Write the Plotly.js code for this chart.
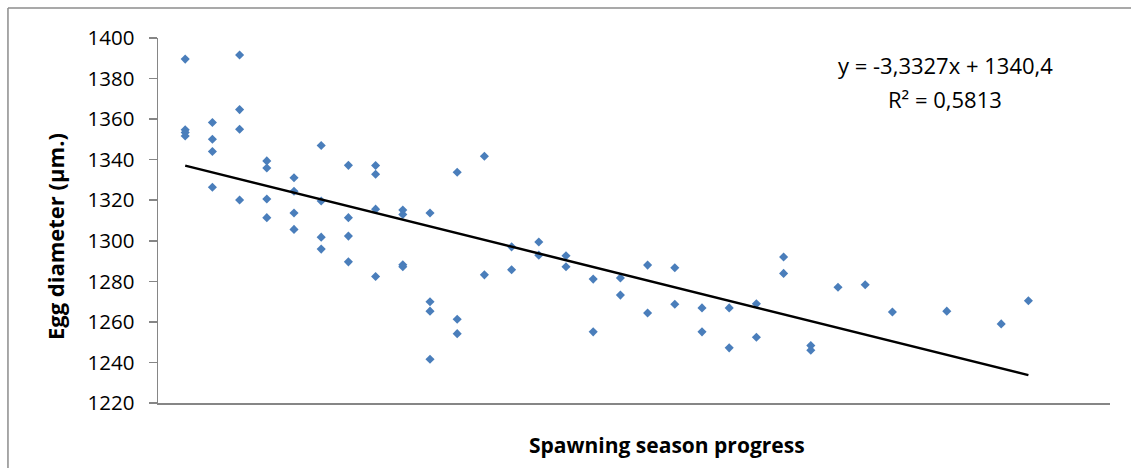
<!DOCTYPE html>
<html>
<head>
<meta charset="utf-8">
<script src="https://cdn.plot.ly/plotly-3.0.1.min.js"></script>
<style>
  html, body { margin: 0; padding: 0; background: #fff; }
  #chart { width: 1131px; height: 468px; }
</style>
</head>
<body>
<div id="chart"></div>
<script>
// Sampling step along the spawning season (one entry per egg measured)
const progress = [
  1, 1, 1, 1,
  2, 2, 2, 2,
  3, 3, 3, 3,
  4, 4, 4, 4,
  5, 5, 5, 5,
  6, 6, 6, 6,
  7, 7, 7, 7,
  8, 8, 8, 8,
  9, 9, 9, 9,
  10, 10, 10, 10,
  11, 11, 11,
  12, 12,
  13, 13,
  14, 14,
  15, 15,
  16, 16,
  17, 17,
  18, 18,
  19, 19,
  20, 20,
  21, 21,
  22, 22,
  23, 23,
  24, 24,
  25, 26, 27, 29, 31, 32
];

// Egg diameter in µm
const eggDiameter = [
  1389.6, 1354.7, 1353.4, 1351.7,
  1358.3, 1350.1, 1344.0, 1326.4,
  1391.6, 1364.7, 1355.0, 1320.1,
  1339.4, 1335.9, 1320.6, 1311.4,
  1331.1, 1324.4, 1313.7, 1305.6,
  1347.0, 1319.6, 1301.8, 1295.9,
  1337.2, 1311.4, 1302.3, 1289.6,
  1337.1, 1332.8, 1315.6, 1282.4,
  1315.2, 1313.0, 1288.2, 1287.2,
  1313.7, 1269.9, 1265.3, 1241.6,
  1333.8, 1261.3, 1254.2,
  1341.7, 1283.2,
  1297.0, 1285.7,
  1299.4, 1292.9,
  1292.6, 1287.2,
  1281.1, 1255.1,
  1281.7, 1273.2,
  1288.0, 1264.4,
  1286.7, 1268.7,
  1266.9, 1255.1,
  1266.9, 1247.2,
  1268.9, 1252.4,
  1292.0, 1283.9,
  1248.3, 1246.0,
  1277.1, 1278.3, 1264.9, 1265.3, 1259.0, 1270.4
];

// Linear trend reported for the series
const slope = -3.3327;
const intercept = 1340.4;
const rSquared = 0.5813;

const yTicks = [1220, 1240, 1260, 1280, 1300, 1320, 1340, 1360, 1380, 1400];

const xMin = Math.min(...progress);
const xMax = Math.max(...progress);
const trendX = [xMin, xMax];
const trendY = trendX.map(x => slope * x + intercept);

const fmt = (v, d) => v.toFixed(d).replace('.', ',');
const equationLine = 'y = ' + fmt(slope, 4) + 'x + ' + fmt(intercept, 1);
const rSquaredLine = 'R² = ' + fmt(rSquared, 4);

const axisGrey = '#868686';
const frameGrey = '#8c8c8c';
const baseFont = '"Open Sans", sans-serif';

const traces = [
  {
    x: progress,
    y: eggDiameter,
    type: 'scatter',
    mode: 'markers',
    marker: { symbol: 'diamond', size: 7, color: '#4a7ebb' },
    hoverinfo: 'x+y',
    showlegend: false
  },
  {
    x: trendX,
    y: trendY,
    type: 'scatter',
    mode: 'lines',
    line: { color: '#000000', width: 2.5 },
    hoverinfo: 'skip',
    showlegend: false
  }
];

const layout = {
  width: 1131,
  height: 468,
  margin: { l: 158, r: 21, t: 38, b: 65 },
  paper_bgcolor: '#ffffff',
  plot_bgcolor: '#ffffff',
  font: { family: baseFont, color: '#000000' },
  xaxis: {
    range: [0, 35],
    showgrid: false,
    zeroline: false,
    showline: true,
    linecolor: axisGrey,
    linewidth: 1.5,
    showticklabels: false,
    ticks: '',
    fixedrange: true
  },
  yaxis: {
    range: [1220, 1400],
    tickvals: yTicks,
    ticktext: yTicks.map(String),
    showgrid: false,
    zeroline: false,
    showline: true,
    linecolor: axisGrey,
    linewidth: 1.5,
    ticks: 'outside',
    ticklen: 8,
    tickwidth: 1.5,
    tickcolor: axisGrey,
    ticklabelstandoff: 10,
    tickfont: { family: baseFont, size: 20.5, color: '#000000' },
    fixedrange: true
  },
  annotations: [
    {
      text: '<b>Egg diameter (µm.)</b>',
      xref: 'paper', yref: 'paper',
      x: -0.108, y: 0.455,
      xanchor: 'center', yanchor: 'middle',
      textangle: -90,
      showarrow: false,
      font: { family: baseFont, size: 22, color: '#000000' }
    },
    {
      text: '<b>Spawning season progress</b>',
      xref: 'paper', yref: 'paper',
      x: 0.535, y: -0.115,
      xanchor: 'center', yanchor: 'middle',
      showarrow: false,
      font: { family: baseFont, size: 21, color: '#000000' }
    },
    {
      text: equationLine,
      xref: 'paper', yref: 'paper',
      x: 0.8267, y: 0.926,
      xanchor: 'center', yanchor: 'middle',
      showarrow: false,
      font: { family: baseFont, size: 22, color: '#000000' }
    },
    {
      text: rSquaredLine,
      xref: 'paper', yref: 'paper',
      x: 0.8267, y: 0.833,
      xanchor: 'center', yanchor: 'middle',
      showarrow: false,
      font: { family: baseFont, size: 22, color: '#000000' }
    }
  ],
  shapes: [
    // chart frame: left and top edges
    {
      type: 'line', xref: 'paper', yref: 'paper',
      x0: -0.1576, x1: -0.1576, y0: 1.0822, y1: -0.3,
      line: { color: frameGrey, width: 1.5 }
    },
    {
      type: 'line', xref: 'paper', yref: 'paper',
      x0: -0.1576, x1: 1.1, y0: 1.0822, y1: 1.0822,
      line: { color: frameGrey, width: 1.5 }
    }
  ]
};

Plotly.newPlot('chart', traces, layout, { displayModeBar: false, staticPlot: true });
</script>
</body>
</html>
